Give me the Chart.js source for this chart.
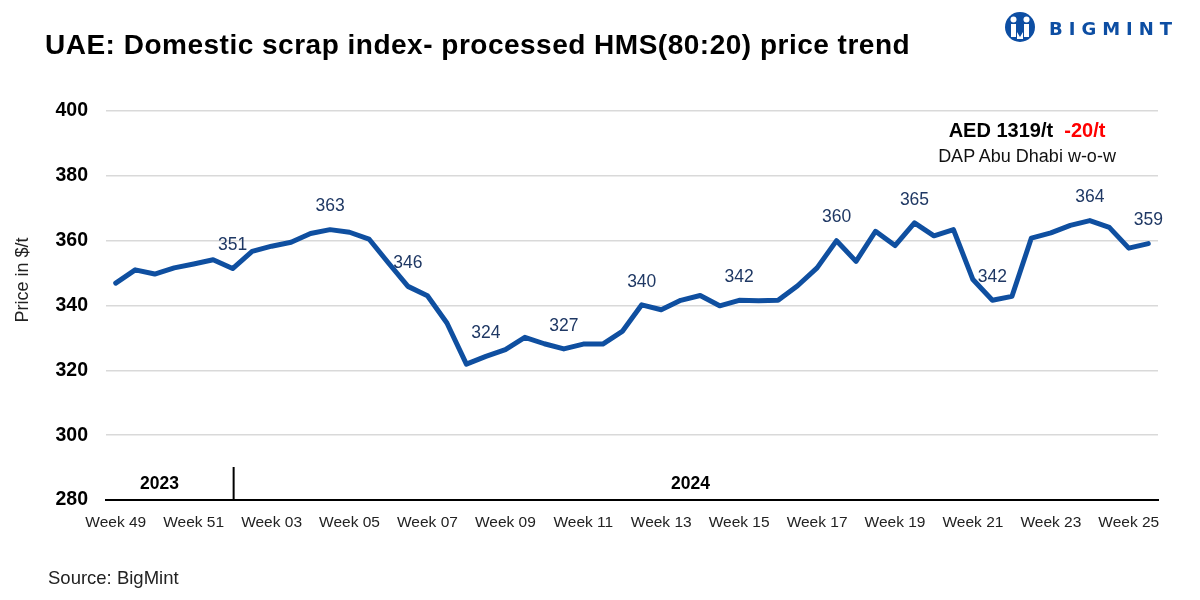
<!DOCTYPE html>
<html lang="en">
<head>
<meta charset="UTF-8">
<title>UAE: Domestic scrap index</title>
<script src="https://cdn.jsdelivr.net/npm/chart.js"></script>
<style>
  body { margin: 0; background: #fff; font-family: "Liberation Sans", Arial, sans-serif; }
  #wrap { position: relative; width: 1200px; height: 600px; overflow: hidden; }
  #chart { position: absolute; left: 0; top: 0; }
  .txt { position: absolute; white-space: nowrap; line-height: 1; }
  #title { left: 45px; top: 31px; font-size: 28px; font-weight: bold; color: #000; letter-spacing: 0.5px; }
  #note1 { left: 900px; width: 254px; text-align: center; top: 120px; font-size: 20px; font-weight: bold; color: #000; }
  #note1 span { color: #f00; }
  #note2 { left: 900px; width: 254px; text-align: center; top: 147px; font-size: 18px; color: #111; }
  #source { left: 48px; top: 569px; font-size: 18.5px; color: #222; }
  #logo { position: absolute; left: 1002px; top: 9px; }
  #logotext { left: 1049px; top: 20px; font-family: "DejaVu Sans", sans-serif; font-size: 18px; font-weight: bold; color: #0d4ea3; letter-spacing: 6px; }
</style>
</head>
<body>
<div id="wrap">
  <canvas id="chart" width="1200" height="600"></canvas>
  <div class="txt" id="title">UAE: Domestic scrap index- processed HMS(80:20) price trend</div>
  <div class="txt" id="note1">AED 1319/t &nbsp;<span>-20/t</span></div>
  <div class="txt" id="note2">DAP Abu Dhabi w-o-w</div>
  <div class="txt" id="source">Source: BigMint</div>
  <svg id="logo" width="36" height="36" viewBox="0 0 36 36">
    <circle cx="18" cy="18" r="15" fill="#0d4ea3"/>
    <circle cx="11.5" cy="10.5" r="3" fill="#fff"/>
    <circle cx="24.5" cy="10.5" r="3" fill="#fff"/>
    <path d="M9 15 h5 v13 h-5 z M22 15 h5 v13 h-5 z" fill="#fff"/>
    <path d="M15 23 l3 5 l3 -5 v7 h-6 z" fill="#fff"/>
  </svg>
  <div class="txt" id="logotext">BIGMINT</div>
</div>

<script>
// twice-weekly processed HMS(80:20) price, $/t
const prices = [
  346.9, 351.0, 349.7, 351.6, 352.8, 354.1, 351.4, 356.7, 358.3, 359.5,
  362.2, 363.4, 362.6, 360.5, 353.1, 345.9, 343.0, 334.6, 321.9, 324.3,
  326.4, 330.2, 328.2, 326.6, 328.1, 328.1, 332.0, 340.2, 338.7, 341.6,
  343.1, 339.9, 341.6, 341.5, 341.6, 346.1, 351.6, 360.0, 353.6, 362.9,
  358.5, 365.5, 361.5, 363.4, 348.0, 341.6, 342.8, 360.8, 362.4, 364.7,
  366.2, 364.1, 357.7, 359.1
];

// x labels shown on every 4th point
const tickLabels = ['Week 49', 'Week 51', 'Week 03', 'Week 05', 'Week 07', 'Week 09', 'Week 11',
  'Week 13', 'Week 15', 'Week 17', 'Week 19', 'Week 21', 'Week 23', 'Week 25'];
const tickEvery = 4;

const yTicks = [280, 300, 320, 340, 360, 380, 400];

// annotated points
const labelIdx  = [6, 11, 15, 19, 23, 27, 32, 37, 41, 45, 50, 53];
const labelText = ['351', '363', '346', '324', '327', '340', '342', '360', '365', '342', '364', '359'];

// year bands along the axis (divider sits on the given index)
const years = ['2023', '2024'];
const yearStart = [0, 6];

const categories = prices.map((_, i) => i % tickEvery === 0 ? tickLabels[i / tickEvery] : '');

const FONT = '"Liberation Sans", Arial, sans-serif';
Chart.defaults.font.family = FONT;

const extras = {
  id: 'extras',
  afterDatasetsDraw(chart) {
    const ctx = chart.ctx;
    const meta = chart.getDatasetMeta(0);
    const x = chart.scales.x;
    const area = chart.chartArea;
    ctx.save();

    // value labels
    ctx.fillStyle = '#1f3864';
    ctx.font = '17.5px ' + FONT;
    ctx.textAlign = 'center';
    ctx.textBaseline = 'middle';
    labelIdx.forEach((i, k) => {
      const p = meta.data[i];
      ctx.fillText(labelText[k], p.x, p.y - 23);
    });

    // year labels and divider
    ctx.font = 'bold 17.5px ' + FONT;
    ctx.fillStyle = '#000';
    years.forEach((yr, k) => {
      const a = yearStart[k];
      const b = k + 1 < yearStart.length ? yearStart[k + 1] - 1 : prices.length - 1;
      const cx = (x.getPixelForValue(a) + x.getPixelForValue(b)) / 2;
      ctx.fillText(yr, cx - (k === 0 ? 5 : 0), area.bottom - 16);
      if (k > 0) {
        const dx = x.getPixelForValue(a) + 1;
        ctx.strokeStyle = '#000';
        ctx.lineWidth = 2;
        ctx.beginPath();
        ctx.moveTo(dx, area.bottom - 33);
        ctx.lineTo(dx, area.bottom);
        ctx.stroke();
      }
    });

    // y axis title
    ctx.translate(23, 280);
    ctx.rotate(-Math.PI / 2);
    ctx.font = '18px ' + FONT;
    ctx.fillStyle = '#222';
    ctx.fillText('Price in $/t', 0, 0);
    ctx.restore();
  }
};

new Chart(document.getElementById('chart'), {
  type: 'line',
  data: {
    labels: categories,
    datasets: [{
      data: prices,
      borderColor: '#0f4fa0',
      borderWidth: 5,
      borderJoinStyle: 'round',
      borderCapStyle: 'round',
      pointRadius: 0,
      tension: 0,
      fill: false
    }]
  },
  options: {
    responsive: false,
    animation: false,
    devicePixelRatio: 1,
    layout: { padding: { top: 111, right: 42, left: 0, bottom: 0 } },
    plugins: { legend: { display: false }, tooltip: { enabled: false } },
    scales: {
      x: {
        offset: true,
        grid: { display: false, drawTicks: false },
        border: { display: true, color: '#000', width: 2 },
        ticks: { autoSkip: false, maxRotation: 0, padding: 13, color: '#222', font: { size: 15.5 } },
        afterFit(s) { s.height = 100; }
      },
      y: {
        min: yTicks[0],
        max: yTicks[yTicks.length - 1],
        afterBuildTicks(s) { s.ticks = yTicks.map(v => ({ value: v })); },
        ticks: { padding: 18, color: '#000', font: { size: 19.5, weight: 'bold' } },
        grid: { color: '#d9d9d9', lineWidth: 1.5, drawTicks: false },
        border: { display: false },
        afterFit(s) { s.width = 106; }
      }
    }
  },
  plugins: [extras]
});
</script>
</body>
</html>
